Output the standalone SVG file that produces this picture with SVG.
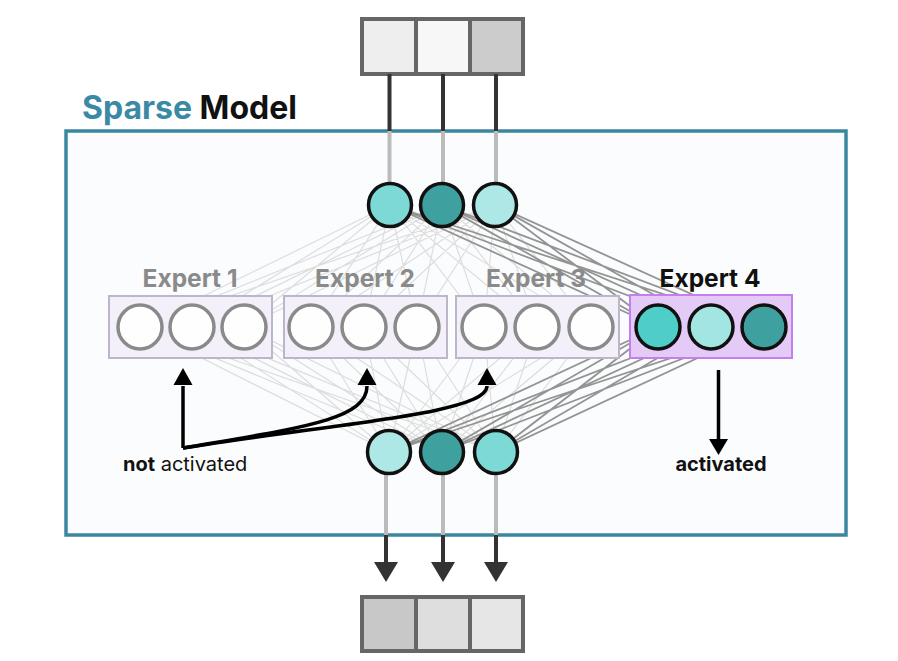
<svg xmlns="http://www.w3.org/2000/svg" width="898" height="661" viewBox="0 0 898 661">
<defs>
<style>
.t{font-family:Inter,"Liberation Sans",sans-serif}
.cell{stroke:#666;stroke-width:4}
.node{stroke:#111;stroke-width:3.5}
.off{fill:#fefefe;stroke:#8a8a8a;stroke-width:3.5}
.ebox{fill:#f4f0fa;stroke:#bdb5c9;stroke-width:2}
.elab{font-size:24.5px;font-weight:700;fill:#8a8a8a;text-anchor:middle}
.wire{stroke:#bbb;stroke-width:4}
.dark{stroke:#333;stroke-width:4}
.ann{fill:none;stroke:#000;stroke-width:3.5}
</style>
</defs>
<rect width="898" height="661" fill="#fff"/>

<g id="input">
<rect x="362" y="19" width="54" height="55" fill="#eeeeee" class="cell"/>
<rect x="416" y="19" width="54" height="55" fill="#f7f7f7" class="cell"/>
<rect x="470" y="19" width="53" height="55" fill="#cccccc" class="cell"/>
</g>

<g id="sparse-model">
<rect x="66" y="131" width="780" height="404" fill="#fbfcfd" stroke="#3b87a1" stroke-width="3.5"/>
<text x="82" y="119" class="t" font-size="32" font-weight="700"><tspan fill="#3a8aa6">Sparse</tspan><tspan fill="#111"> Model</tspan></text>
</g>

<g id="connectors">
<path fill="none" stroke="#ddd" stroke-width="1.2" d="M390 205L140 327M390 205L192 327M390 205L244 327M390 205L311 327M390 205L364 327M390 205L417 327M390 205L484 327M390 205L537 327M390 205L591 327M442 205L140 327M442 205L192 327M442 205L244 327M442 205L311 327M442 205L364 327M442 205L417 327M442 205L484 327M442 205L537 327M442 205L591 327M495 205L140 327M495 205L192 327M495 205L244 327M495 205L311 327M495 205L364 327M495 205L417 327M495 205L484 327M495 205L537 327M495 205L591 327M389 452L140 327M389 452L192 327M389 452L244 327M389 452L311 327M389 452L364 327M389 452L417 327M389 452L484 327M389 452L537 327M389 452L591 327M442 452L140 327M442 452L192 327M442 452L244 327M442 452L311 327M442 452L364 327M442 452L417 327M442 452L484 327M442 452L537 327M442 452L591 327M496 452L140 327M496 452L192 327M496 452L244 327M496 452L311 327M496 452L364 327M496 452L417 327M496 452L484 327M496 452L537 327M496 452L591 327"/>
<path fill="none" stroke="#949494" stroke-width="1.8" d="M390 205L658 327M390 205L711 327M390 205L764 327M442 205L658 327M442 205L711 327M442 205L764 327M495 205L658 327M495 205L711 327M495 205L764 327M389 452L658 327M389 452L711 327M389 452L764 327M442 452L658 327M442 452L711 327M442 452L764 327M496 452L658 327M496 452L711 327M496 452L764 327"/>
<path class="dark" d="M389.5 74V131M443 74V131M496 74V131"/>
<path class="wire" d="M389.5 131V184M443 131V184M496 131V184"/>
<path class="wire" d="M386 474V535M443 474V535M496 474V535"/>
<path class="dark" d="M386 535V564M443 535V564M496 535V564"/>
<path d="M374 562L398 562L386 582ZM431 562L455 562L443 582ZM484 562L508 562L496 582Z" fill="#333"/>
<path class="ann" d="M183 448V386"/>
<path class="ann" d="M183 448C300 428 367 420 367 386"/>
<path class="ann" d="M183 448C330 424 487 414 487 386"/>
<path d="M173.5 385L192.5 385L183 368ZM357.5 385L376.5 385L367 368ZM477.5 385L496.5 385L487 368Z" fill="#000"/>
<path class="ann" d="M718.5 370V440"/>
<path d="M709 439L728 439L718.5 455Z" fill="#000"/>
</g>

<g id="router-in">
<circle cx="390" cy="205" r="21.5" fill="#7dd9d6" class="node"/>
<circle cx="442" cy="205" r="21.5" fill="#3fa19f" class="node"/>
<circle cx="495" cy="205" r="21.5" fill="#aee8e6" class="node"/>
</g>

<g id="expert-1">
<text x="190" y="287" class="t elab">Expert 1</text>
<rect x="109" y="296" width="163" height="62" class="ebox"/>
<circle cx="140" cy="327" r="22" class="off"/>
<circle cx="192" cy="327" r="22" class="off"/>
<circle cx="244" cy="327" r="22" class="off"/>
</g>

<g id="expert-2">
<text x="365" y="287" class="t elab">Expert 2</text>
<rect x="284" y="296" width="163" height="62" class="ebox"/>
<circle cx="311" cy="327" r="22" class="off"/>
<circle cx="364" cy="327" r="22" class="off"/>
<circle cx="417" cy="327" r="22" class="off"/>
</g>

<g id="expert-3">
<text x="536" y="287" class="t elab">Expert 3</text>
<rect x="456" y="296" width="163" height="62" class="ebox"/>
<circle cx="484" cy="327" r="22" class="off"/>
<circle cx="537" cy="327" r="22" class="off"/>
<circle cx="591" cy="327" r="22" class="off"/>
</g>

<g id="expert-4">
<text x="710" y="287" class="t elab" style="fill:#111">Expert 4</text>
<rect x="630" y="295" width="162" height="63" fill="#e4cbf7" stroke="#c47ef0" stroke-width="2"/>
<circle cx="658" cy="327" r="22" fill="#4ecdc9" class="node"/>
<circle cx="711" cy="327" r="22" fill="#a3e5e2" class="node"/>
<circle cx="764" cy="327" r="22" fill="#3fa19f" class="node"/>
</g>

<g id="router-out">
<circle cx="389" cy="452" r="21.5" fill="#aee8e6" class="node"/>
<circle cx="442" cy="452" r="21.5" fill="#3fa19f" class="node"/>
<circle cx="496" cy="452" r="21.5" fill="#7dd9d6" class="node"/>
</g>

<g id="labels">
<text x="123" y="471" class="t" font-size="20" fill="#111"><tspan font-weight="700">not</tspan> activated</text>
<text x="721" y="471" class="t" font-size="20" font-weight="700" fill="#111" text-anchor="middle">activated</text>
</g>

<g id="output">
<rect x="362" y="597" width="54" height="54" fill="#c8c8c8" class="cell"/>
<rect x="416" y="597" width="54" height="54" fill="#dedede" class="cell"/>
<rect x="470" y="597" width="53" height="54" fill="#e6e6e6" class="cell"/>
</g>
</svg>
